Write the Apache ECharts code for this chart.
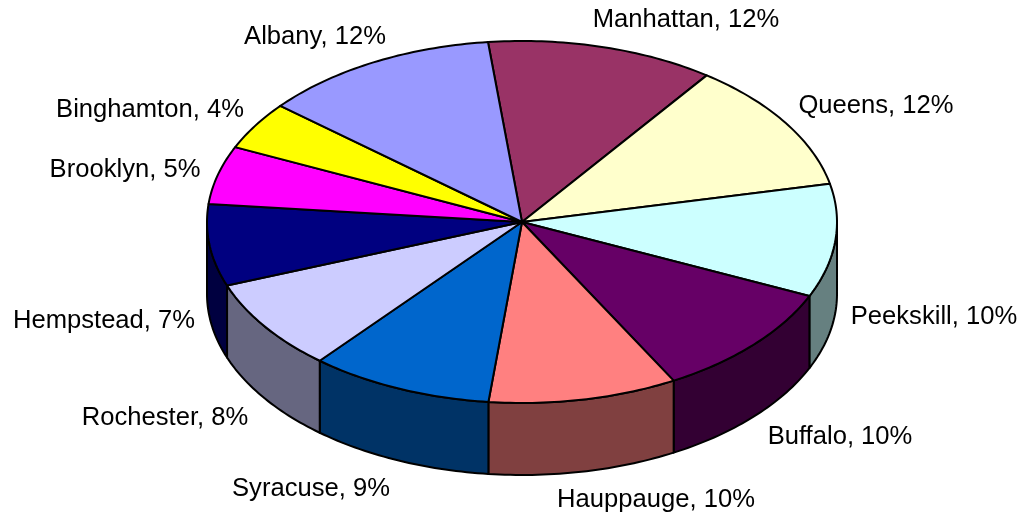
<!DOCTYPE html>
<html>
<head>
<meta charset="utf-8">
<style>
  html, body { margin: 0; padding: 0; background: #fff; }
  #main { width: 1027px; height: 516px; }
</style>
<script src="https://cdn.jsdelivr.net/npm/echarts@6/dist/echarts.min.js"></script>
</head>
<body>
<div id="main"></div>
<script>
// clockwise from the slice that starts just left of twelve o'clock
var cities = ['Manhattan', 'Queens', 'Peekskill', 'Buffalo', 'Hauppauge', 'Syracuse', 'Rochester', 'Hempstead', 'Brooklyn', 'Binghamton', 'Albany'];
var shares = [11.7, 11.65, 10.1, 10.3, 9.7, 9.4, 8.2, 7.3, 5.2, 4.3, 12.2];
var topColors = ['#993366', '#FFFFCC', '#CCFFFF', '#660066', '#FF8080', '#0066CC', '#CCCCFF', '#000080', '#FF00FF', '#FFFF00', '#9999FF'];
var wallColors = ['#4D1933', '#808066', '#668080', '#330033', '#804040', '#003366', '#666680', '#000040', '#800080', '#808000', '#4D4D80'];
var labelSpots = [[686, 20], [876, 106], [934, 317], [840, 437], [656, 500], [311, 489], [165, 418], [104, 321], [125, 170], [150, 110], [315, 37]];

var cx = 522, cy = 222, rx = 315, ry = 181, depth = 72;
var startAngle = -6.2;
var total = shares.reduce(function (a, b) { return a + b; }, 0);

function arc(from, to, dy) {
  var pts = [], n = Math.max(1, Math.ceil(Math.abs(to - from)));
  for (var i = 0; i <= n; i++) {
    var t = (from + (to - from) * i / n) * Math.PI / 180;
    pts.push([cx + rx * Math.sin(t), cy + dy - ry * Math.cos(t)]);
  }
  return pts;
}

var outline = { stroke: '#000', lineWidth: 2, lineJoin: 'round' };

function renderSlice(params, api) {
  var i = params.dataIndex;
  var from = startAngle + api.value(1) / total * 360;
  var to = from + api.value(0) / total * 360;
  var children = [];

  // side wall only shows on the front half of the disc
  var a = Math.max(from, 90), b = Math.min(to, 270);
  if (b > a) {
    children.push({
      type: 'polygon',
      z2: 1,
      shape: { points: arc(a, b, 0).concat(arc(b, a, depth)) },
      style: Object.assign({ fill: wallColors[i] }, outline)
    });
  }
  children.push({
    type: 'polygon',
    z2: 2,
    shape: { points: [[cx, cy]].concat(arc(from, to, 0)) },
    style: Object.assign({ fill: topColors[i] }, outline)
  });
  children.push({
    type: 'text',
    z2: 3,
    style: {
      x: labelSpots[i][0],
      y: labelSpots[i][1],
      text: cities[i] + ', ' + Math.round(api.value(0)) + '%',
      fill: '#000',
      font: '25.6px "Liberation Sans", Arial, sans-serif',
      align: 'center',
      verticalAlign: 'middle'
    }
  });
  return { type: 'group', children: children };
}

var running = 0;
var rows = shares.map(function (v) {
  var row = [v, running];
  running += v;
  return row;
});

var chart = echarts.init(document.getElementById('main'), null, { renderer: 'canvas' });
chart.setOption({
  animation: false,
  backgroundColor: '#fff',
  series: [{
    type: 'custom',
    coordinateSystem: 'none',
    renderItem: renderSlice,
    data: rows
  }]
});
</script>
</body>
</html>
